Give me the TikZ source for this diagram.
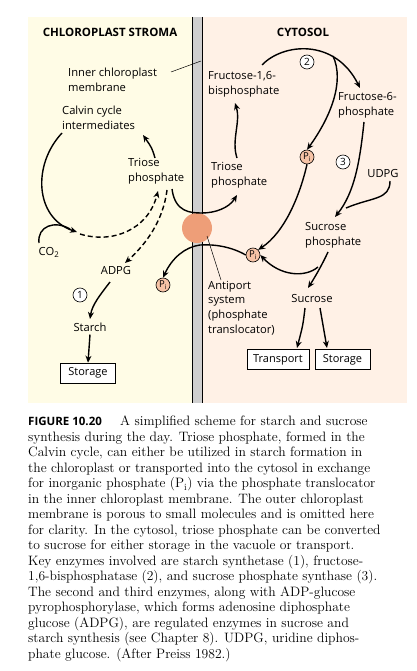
\documentclass[tikz,border=0pt]{standalone}
\usepackage{fontspec}
\newfontfamily\lab{Open Sans}
\usetikzlibrary{arrows.meta}
\definecolor{stroma}{HTML}{FFFCE6}
\definecolor{cyto}{HTML}{FFF1E6}
\definecolor{memb}{HTML}{CFCFCF}
\definecolor{antip}{HTML}{EE9E78}
\definecolor{pifill}{HTML}{F6C3A6}
\begin{document}
\begin{tikzpicture}[x=1pt,y=-1pt,
 lbl/.style={font=\lab\fontsize{11.2}{14.8}\selectfont, inner sep=0pt, align=left},
 hdr/.style={font=\lab\bfseries\fontsize{11.5}{12}\selectfont, inner sep=0pt},
 arr/.style={line width=1.4pt, -{Stealth[length=7pt,width=6pt]}},
 pl/.style={line width=1.4pt},
 darr/.style={arr, dash pattern=on 5pt off 3pt},
 pinode/.style={circle, draw, line width=0.6pt, fill=pifill, minimum size=14pt, inner sep=0pt, font=\lab\fontsize{9.5}{9.5}\selectfont},
 num/.style={circle, draw, line width=0.6pt, fill=white, minimum size=14pt, inner sep=0pt, font=\lab\fontsize{10}{10}\selectfont},
 boxnode/.style={draw, line width=0.6pt, fill=white, inner sep=0pt, minimum height=20pt, font=\lab\fontsize{11}{12}\selectfont},
 thin/.style={line width=0.5pt}
]
\useasboundingbox (0,0) rectangle (416,671);
\fill[white] (0,0) rectangle (416,671);
% panels
\fill[stroma] (28,17) rectangle (192,403);
\fill[cyto] (202,17) rectangle (407,403);
\fill[memb] (192,17) rectangle (202,403);
\draw[line width=0.8pt] (192,17) -- (192,403) (202,17) -- (202,403);
% antiport
\node[circle, fill=antip, minimum size=30pt, inner sep=0pt] (anti) at (197,228) {};
\coordinate (antipt) at (207,236);

% headers
\node[hdr] (hs) at (110,32) {CHLOROPLAST STROMA};
\node[hdr] (hc) at (303,32) {CYTOSOL};

% labels
\node[lbl, anchor=west] (inner) at (68,80) {Inner chloroplast\\membrane};
\coordinate (membpt) at (201,61);
\coordinate (innerend) at (171,72);
\draw[thin] (innerend) -- (membpt);
\node[lbl, anchor=west] (calvin) at (62,117.5) {Calvin cycle\\intermediates};
\node[lbl, anchor=west] (tpl) at (128,171) {Triose\\phosphate};
\node[lbl, anchor=west] (tpr) at (211,175) {Triose\\phosphate};
\node[lbl, anchor=west] (fbp) at (208,84.5) {Fructose-1,6-\\bisphosphate};
\node[lbl, anchor=west] (f6p) at (338,105) {Fructose-6-\\phosphate};
\node[lbl] (udpg) at (383,173) {UDPG};
\node[lbl, anchor=west] (sp) at (305,235) {Sucrose\\phosphate};
\node[lbl] (suc) at (312,298) {Sucrose};
\node[lbl] (adpg) at (116,270) {ADPG};
\node[lbl] (starch) at (90,327) {Starch};
\node[lbl] (co2) at (49,252) {CO\textsubscript{2}};
\node[lbl, anchor=west] (antitxt) at (208,308) {Antiport\\system\\(phosphate\\translocator)};
\coordinate (antiend) at (221,280);
\node[boxnode, minimum width=55pt] (stor1) at (88,373) {Storage};
\node[boxnode, minimum width=62pt] (trans) at (278,359.5) {Transport};
\node[boxnode, minimum width=55pt] (stor2) at (342.5,359.5) {Storage};

% numbers and Pi
\node[num] (n1) at (80,295) {1};
\node[num] (n2) at (307,62) {2};
\node[num] (n3) at (343,162) {3};
\node[pinode] (pis) at (163,285) {P\textsubscript{i}};
\node[pinode] (piu) at (307,157) {P\textsubscript{i}};
\node[pinode] (pil) at (253,255) {P\textsubscript{i}};

% stroma arrows
\draw[arr] (155,158) .. controls (152,148) .. (143,135);
\draw[arr] (62,133) .. controls (32,165) and (35,218) .. (77,232);
\draw[pl] (39,243) .. controls (37,226) and (55,220) .. (70,229);
\draw[darr] (80,234) .. controls (112,244) and (148,230) .. (158,191);
\draw[darr] (167,190) .. controls (163,222) and (145,245) .. (125,263);
\draw[arr] (110,282) .. controls (100,295) and (92,305) .. (90,319);
\draw[arr] (starch.south) ++(0,3) -- (stor1.north);
% across membrane
\draw[arr] (172,189) .. controls (175,212) and (190,213) .. (202,213) .. controls (215,213) and (229,208) .. (237,195);
\draw[arr] (pil.west) .. controls (232,247) and (215,244) .. (200,245) .. controls (185,247) and (172,258) .. (pis.north);
\draw[thin] (antiend) -- (antipt);
% cytosol arrows
\draw[arr] (237,158) .. controls (231,140) and (241,122) .. (235,103);
\draw[arr] (262,65) .. controls (283,43) and (335,38) .. (360,88);
\draw[arr] (333,56) .. controls (345,82) and (330,118) .. (piu.north);
\draw[arr] (piu.south) .. controls (300,195) and (285,232) .. (pil.north east);
\draw[arr] (364,122) .. controls (360,160) and (355,192) .. (335,217);
\draw[pl] (390,181) .. controls (390,200) and (372,197) .. (346,208);
\draw[arr] (328,252) .. controls (322,265) and (315,277) .. (308,288);
\draw[arr] (318,267) .. controls (305,278) and (280,276) .. (pil.east);
\draw[arr] (305,308) .. controls (303,325) .. (297,348);
\draw[arr] (320,308) .. controls (323,325) .. (327,348);

% caption
\node[anchor=north west, inner sep=0pt, align=left, font=\fontsize{13.6}{15.5}\selectfont] (cap) at (28,416) {%
\makebox[92pt][l]{\lab\bfseries\fontsize{11.5}{12}\selectfont FIGURE 10.20}A simplified scheme for starch and sucrose\\
synthesis during the day. Triose phosphate, formed in the\\
Calvin cycle, can either be utilized in starch formation in\\
the chloroplast or transported into the cytosol in exchange\\
for inorganic phosphate (P\textsubscript{i}) via the phosphate translocator\\
in the inner chloroplast membrane. The outer chloroplast\\
membrane is porous to small molecules and is omitted here\\
for clarity. In the cytosol, triose phosphate can be converted\\
to sucrose for either storage in the vacuole or transport.\\
Key enzymes involved are starch synthetase (1), fructose-\\
1,6-bisphosphatase (2), and sucrose phosphate synthase (3).\\
The second and third enzymes, along with ADP-glucose\\
pyrophosphorylase, which forms adenosine diphosphate\\
glucose (ADPG), are regulated enzymes in sucrose and\\
starch synthesis (see Chapter 8). UDPG, uridine diphos-\\
phate glucose. (After Preiss 1982.)};
\end{tikzpicture}
\end{document}
